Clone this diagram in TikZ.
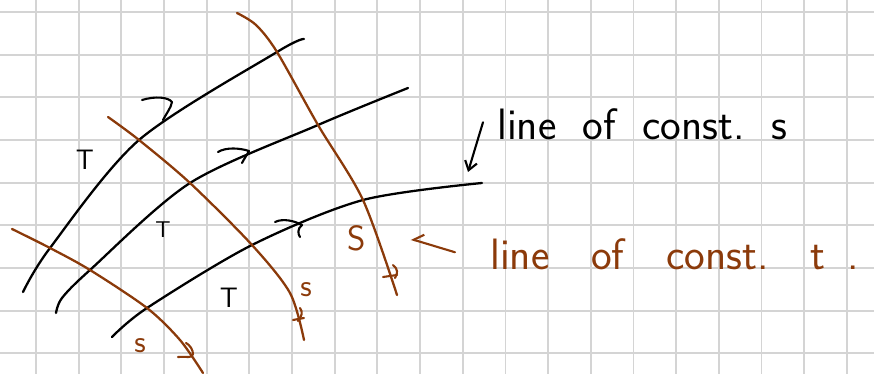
\documentclass[tikz,border=0pt]{standalone}
\usepackage{xcolor}
\usepackage{tikz}
\usetikzlibrary{arrows.meta}
\definecolor{brunT}{RGB}{139,58,10}
\definecolor{grisGrille}{RGB}{212,212,212}

\begin{document}
\begin{tikzpicture}[x=0.02cm,y=-0.02cm,font=\sffamily,
    courbe/.style={line width=1.3pt,line cap=round,line join=round},
    crochet/.style={line width=1.2pt,line cap=round,line join=round}]
  \useasboundingbox (0,0) rectangle (874,374);
  % Grille
  \foreach \i in {0,...,19}
    \draw[grisGrille,line width=1pt] ({36+42.67*\i},0)--({36+42.67*\i},374);
  \foreach \j in {0,...,8}
    \draw[grisGrille,line width=1pt] (0,{12+42.67*\j})--(874,{12+42.67*\j});

  % Croisements (courbe noire i, courbe brune j)
  \coordinate (p11) at (50,248);  \coordinate (p12) at (139,140); \coordinate (p13) at (277,52);
  \coordinate (p21) at (90,270);  \coordinate (p22) at (190,183); \coordinate (p23) at (318,125);
  \coordinate (p31) at (147,308); \coordinate (p32) at (252,245); \coordinate (p33) at (363,200);

  % Lignes de s constant
  \draw[courbe] plot[smooth] coordinates {(23,292) (p11) (p12) (p13) (304,39)};
  \draw[courbe] plot[smooth] coordinates {(56,313) (62,298) (p21) (p22) (p23) (408,88)};
  \draw[courbe] plot[smooth] coordinates {(112,337) (p31) (p32) (p33) (482,183)};

  % Lignes de t constant
  \draw[courbe,brunT] plot[smooth] coordinates {(12,229) (p11) (p21) (p31) (180,340) (203,373)};
  \draw[courbe,brunT] plot[smooth] coordinates {(108,117) (p12) (p22) (p32) (290,293) (304,340)};
  \draw[courbe,brunT] plot[smooth] coordinates {(237,13) (256,25) (p13) (p23) (p33) (397,295)};

  % Sens de parcours
  \draw[crochet] (142,100)..controls (155,96) and (168,97)..(172,102)..controls (171,108) and (166,114)..(163,120);
  \draw[crochet] (218,152)..controls (226,147) and (240,148)..(249,151)..controls (247,155) and (244,159)..(242,163);
  \draw[crochet] (275,222)..controls (283,218) and (295,221)..(302,225)..controls (297,229) and (298,234)..(300,237);
  \draw[crochet,brunT] (178,357)..controls (185,356) and (193,359)..(193,354)..controls (193,350) and (190,345)..(186,343);
  \draw[crochet,brunT] (293,320)--(304,318);
  \draw[crochet,brunT] (300,308)..controls (303,312) and (302,316)..(298,321);
  \draw[crochet,brunT] (383,277)--(397,275);
  \draw[crochet,brunT] (393,265)..controls (398,269) and (398,273)..(395,278);

  % Noms des parametres
  \node[font=\sffamily\fontsize{16}{18}\selectfont] (t1) at (85,160) {T};
  \node[font=\sffamily\fontsize{13}{15}\selectfont] (t2) at (163,230) {T};
  \node[font=\sffamily\fontsize{16}{18}\selectfont] (t3) at (229,298) {T};
  \node[font=\sffamily\fontsize{20}{22}\selectfont,brunT] (s1) at (357,238) {S};
  \node[font=\sffamily\fontsize{18}{20}\selectfont,brunT] (s2) at (306,290) {s};
  \node[font=\sffamily\fontsize{18}{20}\selectfont,brunT] (s3) at (140,346) {s};

  % Legendes
  \node[font=\sffamily\fontsize{25}{27}\selectfont,anchor=base west,inner sep=0pt] (lblS) at (497,140)
    {\spaceskip=0.6em line of const.\ s};
  \node[font=\sffamily\fontsize{25}{27}\selectfont,anchor=base west,inner sep=0pt,brunT] (lblT) at (490,270)
    {\spaceskip=0.95em line of const.\ t\hspace{0.5em}.};
  \coordinate (flS) at (468,172);
  \coordinate (flT) at (411,239);
  \draw[crochet,-{Straight Barb[length=5pt,width=7pt]}] ([xshift=-0.28cm,yshift=0.05cm]lblS.west) -- (flS);
  \draw[crochet,brunT,-{Straight Barb[harpoon,swap,length=5pt,width=9pt]}] ([xshift=-0.7cm,yshift=0.05cm]lblT.west) -- (flT);
\end{tikzpicture}
\end{document}
